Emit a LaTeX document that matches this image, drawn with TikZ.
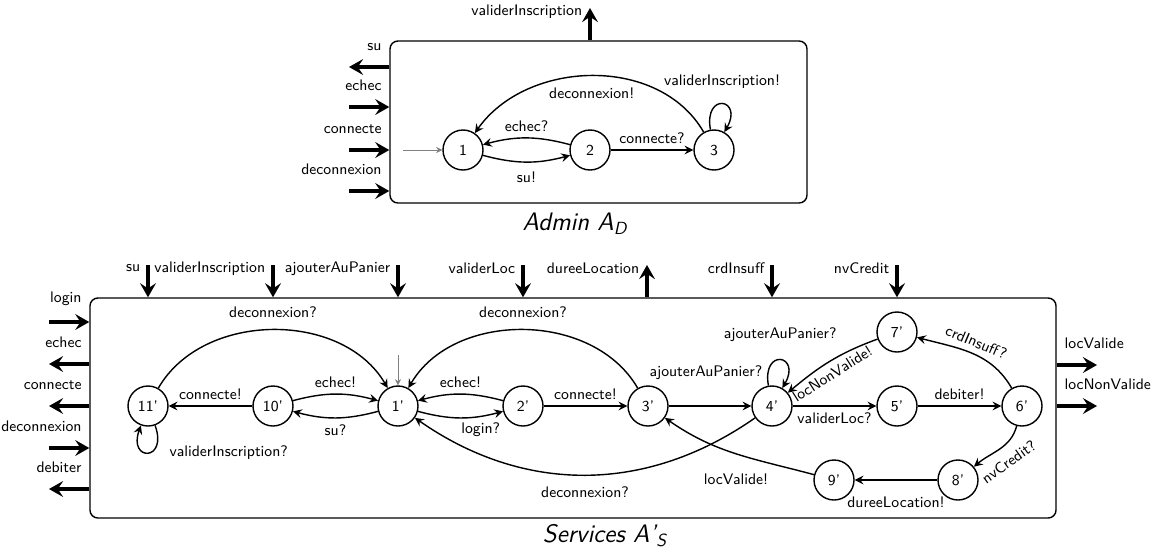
\documentclass[tikz,border=0pt]{standalone}
\usetikzlibrary{arrows.meta, positioning, calc}

\begin{document}
\begin{tikzpicture}[
  x=0.2mm, y=0.2mm, font=\sffamily\fontsize{8.7}{10}\selectfont,
  state/.style={circle, draw, thick, minimum size=8mm, inner sep=0pt},
  box/.style={draw, thick, rounded corners=4.5pt},
  title/.style={font=\sffamily\itshape\Large},
  trans/.style={-{Stealth[length=5pt, width=5pt, inset=1.8pt]}, thick},
  init/.style={-{Stealth[length=3.5pt, width=3.5pt, inset=1.2pt]}, gray, thin},
  port/.style={-{Stealth[length=8pt, width=9pt, inset=3pt]}, line width=2.2pt},
  lblW/.style={above left, yshift=5pt},
  lblE/.style={above right, yshift=5pt},
  lblN/.style={left, yshift=-2pt},
]
\useasboundingbox (0,0) rectangle (1162,-556);

% --- admin automaton ---
\node[box, minimum width=83.4mm, minimum height=32.4mm] (admin) at (598.5,-122) {};
\node[title] (adminT) at (575,-224) {Admin A\textsubscript{D}};

\node[state] (a1) at (463,-150) {1};
\node[state] (a2) at (590,-150) {2};
\node[state] (a3) at (714,-150) {3};

\coordinate (a0) at (403,-150);
\draw[init] (a0) -- (a1);

\draw[trans, bend right=15] (a1) to node[below=2pt] {su!} (a2);
\draw[trans, bend right=15] (a2) to node[above] {echec?} (a1);
\draw[trans] (a2) -- node[above] {connecte?} (a3);
\draw[trans] (a3) to[out=120, in=55] node[below=3pt] {deconnexion!} (a1);
\draw[trans] (a3) to[out=100, in=60, looseness=7] node[above=5pt] {validerInscription!} (a3);

% --- admin ports ---
\coordinate (aSu)   at (349,-67);
\coordinate (aEchec) at (349,-107);
\coordinate (aConn) at (349,-150);
\coordinate (aDec)  at (349,-191);
\coordinate (aVal)  at (590,-8);

\draw[port] (aSu -| admin.west) node[lblW] {su} -- (aSu);
\draw[port] (aEchec) -- (aEchec -| admin.west) node[lblW] {echec};
\draw[port] (aConn) -- (aConn -| admin.west) node[lblW] {connecte};
\draw[port] (aDec) -- (aDec -| admin.west) node[lblW] {deconnexion};
\draw[port] (aVal |- admin.north) -- (aVal) node[lblN] {validerInscription};

% --- services automaton ---
\node[box, minimum width=193.2mm, minimum height=44mm] (srv) at (573,-408) {};
\node[title] (srvT) at (605,-536) {Services A'\textsubscript{S}};

\node[state] (s11) at (148,-406) {11'};
\node[state] (s10) at (273,-406) {10'};
\node[state] (s1)  at (398,-406) {1'};
\node[state] (s2)  at (523,-406) {2'};
\node[state] (s3)  at (648,-406) {3'};
\node[state] (s4)  at (772,-406) {4'};
\node[state] (s5)  at (897,-406) {5'};
\node[state] (s6)  at (1022,-406) {6'};
\node[state] (s7)  at (897,-332) {7'};
\node[state] (s8)  at (958,-480) {8'};
\node[state] (s9)  at (834,-480) {9'};

\coordinate (s0) at (398,-355);
\draw[init] (s0) -- (s1);

\draw[trans] (s10) -- node[above] {connecte!} (s11);
\draw[trans, bend left=15] (s10) to node[above] {echec!} (s1);
\draw[trans, bend left=15] (s1) to node[below] {su?} (s10);
\draw[trans] (s11) to[out=60, in=120] node[above=3pt] {deconnexion?} (s1);
\draw[trans] (s11) to[out=-70, in=-110, looseness=7] node[right=3mm] {validerInscription?} (s11);

\draw[trans, bend right=15] (s1) to node[below, pos=0.75] {login?} (s2);
\draw[trans, bend right=15] (s2) to node[above] {echec!} (s1);
\draw[trans] (s2) -- node[above] {connecte!} (s3);
\draw[trans] (s3) to[out=120, in=60] node[above=3pt] {deconnexion?} (s1);
\draw[trans] (s3) -- node[above=4mm, pos=0.45] {ajouterAuPanier?} (s4);
\draw[trans] (s4) to[out=100, in=60, looseness=7] node[above=7pt] {ajouterAuPanier?} (s4);
\draw[trans] (s4) to[out=215, in=-35] node[below=3pt] {deconnexion?} (s1);

\draw[trans] (s4) -- node[below] {validerLoc?} (s5);
\draw[trans] (s5) -- node[above] {debiter!} (s6);
\draw[trans] (s6) to[out=120, in=-15] node[sloped, above] {crdInsuff?} (s7);
\draw[trans] (s7) to[out=200, in=40] node[sloped, below, pos=0.55] {locNonValide!} (s4);
\draw[trans] (s6) to[out=-105, in=40] node[sloped, below=2pt] {nvCredit?} (s8);
\draw[trans] (s8) -- node[below=6pt] {dureeLocation!} (s9);
\draw[trans] (s9) to[out=165, in=-35] node[below=8pt, pos=0.5] {locValide!} (s3);

% --- services ports ---
\coordinate (pLogin) at (49,-322);
\coordinate (pEchec) at (49,-364);
\coordinate (pConn)  at (49,-406);
\coordinate (pDec)   at (49,-448);
\coordinate (pDeb)   at (49,-489);

\draw[port] (pLogin) -- (pLogin -| srv.west) node[lblW] {login};
\draw[port] (pEchec -| srv.west) node[lblW] {echec} -- (pEchec);
\draw[port] (pConn -| srv.west) node[lblW] {connecte} -- (pConn);
\draw[port] (pDec) -- (pDec -| srv.west) node[lblW] {deconnexion};
\draw[port] (pDeb -| srv.west) node[lblW] {debiter} -- (pDeb);

\coordinate (pSu)     at (148,-265);
\coordinate (pValIns) at (273,-265);
\coordinate (pAjout)  at (398,-265);
\coordinate (pValLoc) at (523,-265);
\coordinate (pDuree)  at (647,-265);
\coordinate (pCrd)    at (772,-265);
\coordinate (pNv)     at (897,-265);

\draw[port] (pSu) node[lblN] {su} -- (pSu |- srv.north);
\draw[port] (pValIns) node[lblN] {validerInscription} -- (pValIns |- srv.north);
\draw[port] (pAjout) node[lblN] {ajouterAuPanier} -- (pAjout |- srv.north);
\draw[port] (pValLoc) node[lblN] {validerLoc} -- (pValLoc |- srv.north);
\draw[port] (pDuree |- srv.north) -- (pDuree) node[lblN] {dureeLocation};
\draw[port] (pCrd) node[lblN] {crdInsuff} -- (pCrd |- srv.north);
\draw[port] (pNv) node[lblN] {nvCredit} -- (pNv |- srv.north);

\coordinate (pLocV)  at (1097,-365);
\coordinate (pLocNV) at (1097,-406);

\draw[port] (pLocV -| srv.east) node[lblE] {locValide} -- (pLocV);
\draw[port] (pLocNV -| srv.east) node[lblE] {locNonValide} -- (pLocNV);
\end{tikzpicture}
\end{document}
